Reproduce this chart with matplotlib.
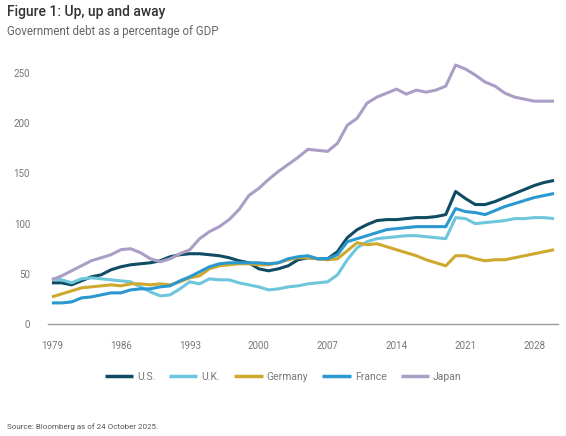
import numpy as np
import matplotlib
matplotlib.use("Agg")
import matplotlib.pyplot as plt

plt.rcParams['font.family'] = ['Roboto', 'DejaVu Sans']

years = np.arange(1979, 2031)

us = [41, 41, 39, 43, 47, 49, 54, 57, 59, 60, 61, 63, 67, 69, 70, 70, 69, 68, 66, 63,
      61, 55, 53, 55, 58, 64, 66, 65, 65, 72, 86, 94, 99, 103, 104, 104, 105, 106, 106, 107,
      109, 132, 125, 119, 119, 122, 126, 130, 134, 138, 141, 143]
uk = [45, 44, 41, 45, 46, 45, 44, 43, 42, 37, 32, 28, 29, 35, 42, 40, 45, 44, 44, 41,
      39, 37, 34, 35, 37, 38, 40, 41, 42, 49, 64, 76, 82, 85, 86, 87, 88, 88, 87, 86,
      85, 106, 105, 100, 101, 102, 103, 105, 105, 106, 106, 105]
germany = [27, 30, 33, 36, 37, 38, 39, 38, 40, 40, 39, 40, 39, 42, 46, 48, 55, 58, 59, 60,
           60, 59, 59, 61, 64, 66, 66, 65, 64, 65, 73, 81, 79, 80, 77, 74, 71, 68, 64, 61,
           58, 68, 68, 65, 63, 64, 64, 66, 68, 70, 72, 74]
france = [21, 21, 22, 26, 27, 29, 31, 31, 34, 35, 35, 37, 38, 43, 47, 52, 57, 60, 61, 61,
          61, 61, 60, 61, 65, 67, 68, 65, 65, 69, 82, 85, 88, 91, 94, 95, 96, 97, 97, 97,
          97, 115, 112, 111, 109, 113, 117, 120, 123, 126, 128, 130]
japan = [44, 48, 53, 58, 63, 66, 69, 74, 75, 71, 65, 62, 65, 70, 74, 85, 92, 97, 104, 114,
         128, 135, 144, 152, 159, 166, 174, 173, 172, 180, 198, 205, 220, 226, 230, 234, 229, 233, 231, 233,
         237, 258, 254, 248, 241, 237, 230, 226, 224, 222, 222, 222]

series = [("U.S.", us, "#0f4c63"),
          ("U.K.", uk, "#6ec6dd"),
          ("Germany", germany, "#cfa92e"),
          ("France", france, "#2b98d0"),
          ("Japan", japan, "#aa9ec6")]

fig = plt.figure(figsize=(5.66, 4.36), dpi=100)
ax = fig.add_axes([48/566, 1 - 324/436, 510/566, 266/436])

for name, vals, col in series:
    ax.plot(years, vals, color=col, lw=2.2, label=name, solid_capstyle='butt')

ax.set_xlim(1978.6, 2030.4)
ax.set_ylim(0, 265)
ax.set_yticks([0, 50, 100, 150, 200, 250])
ax.set_xticks(np.arange(1979, 2030, 7))
ax.tick_params(length=0, labelsize=7, colors='#777777')
ax.tick_params(axis='y', pad=13)
ax.tick_params(axis='x', pad=12)
for s in ['top', 'right', 'left']:
    ax.spines[s].set_visible(False)
ax.spines['bottom'].set_color('#9a9a9a')
ax.spines['bottom'].set_linewidth(1.0)

leg = fig.legend(loc='center', bbox_to_anchor=(0.5, 1 - 377/436), ncol=5, frameon=False,
                 fontsize=7.5, handlelength=2.7, columnspacing=1.35, handletextpad=0.4)
for t in leg.get_texts():
    t.set_color('#777777')
for h in leg.get_lines():
    h.set_linewidth(2.5)

fig.text(7/566, 1 - 12/436, "Figure 1: Up, up and away", fontsize=10, fontweight='medium',
         color='#333333', va='center')
fig.text(7/566, 1 - 32/436, "Government debt as a percentage of GDP", fontsize=8.3,
         color='#666666', va='center')
fig.text(7/566, 1 - 427/436, "Source: Bloomberg as of 24 October 2025.", fontsize=5.8,
         color='#555555', va='center')

fig.savefig("out.png", dpi=100)
